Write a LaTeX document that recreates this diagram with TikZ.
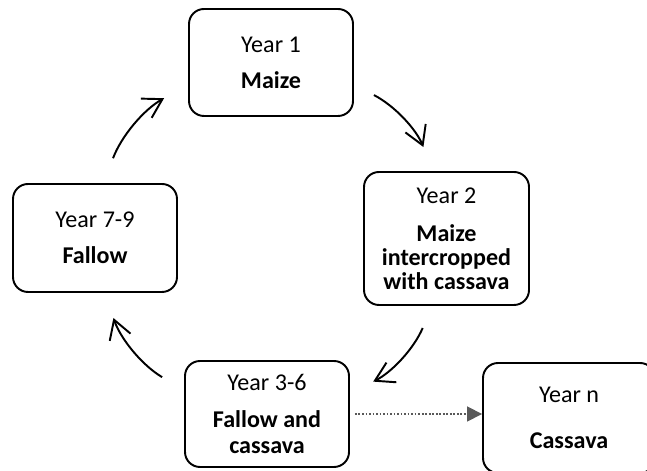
\documentclass[tikz,border=0pt]{standalone}
\usepackage{fontspec}
\setmainfont{Carlito}
\usetikzlibrary{arrows.meta}
\definecolor{arrowgray}{HTML}{595959}
\tikzset{
  yearbox/.style={draw, line width=1.1pt, rounded corners=0.3cm, align=center,
    minimum width=3.28cm, minimum height=2.14cm,
    font=\fontsize{13.7pt}{13.7pt}\selectfont},
  cyclearrow/.style={line width=1.1pt, bend left=20,
    -{Straight Barb[length=0.37cm,width=0.44cm]}},
  nextarrow/.style={draw=arrowgray, line width=1pt, densely dotted,
    -{Triangle[length=0.3cm,width=0.3cm,fill=arrowgray]}}
}
\begin{document}
\begin{tikzpicture}
    \useasboundingbox (0,0) rectangle (12.94,9.42);
    \clip (0,0) rectangle (12.94,9.42);
    % the rotation
    \node[yearbox] (y1) at (5.42,8.17) {Year 1\\[6.8pt]\textbf{Maize}};
    \node[yearbox, minimum width=3.3cm, minimum height=2.66cm] (y2) at (8.93,4.65)
        {Year 2\\[8pt]\textbf{Maize}\\\textbf{intercropped}\\\textbf{with cassava}};
    \node[yearbox, minimum height=2.12cm] (y36) at (5.34,1.14)
        {Year 3-6\\[7.4pt]\textbf{Fallow and}\\[1pt]\textbf{cassava}};
    \node[yearbox, minimum height=2.16cm] (y79) at (1.90,4.66) {Year 7-9\\[6.8pt]\textbf{Fallow}};
    \node[yearbox, minimum width=3.44cm, minimum height=2.2cm] (yn) at (11.38,1.06)
        {Year n\\[12.8pt]\textbf{Cassava}};
    \draw[cyclearrow, shorten <=0.45cm, shorten >=0.52cm] (y1.-15) to (y2.101);
    \draw[cyclearrow, shorten <=0.48cm, shorten >=0.52cm] (y2.-102) to (y36.14);
    \draw[cyclearrow, shorten <=0.51cm, shorten >=0.53cm] (y36.164) to (y79.-80);
    \draw[cyclearrow, shorten <=0.53cm, shorten >=0.55cm] (y79.81) to (y1.195);
    % way out of the cycle
    \draw[nextarrow, shorten <=0.1cm] (y36.east) -- (y36.east -| yn.west);
\end{tikzpicture}
\end{document}
